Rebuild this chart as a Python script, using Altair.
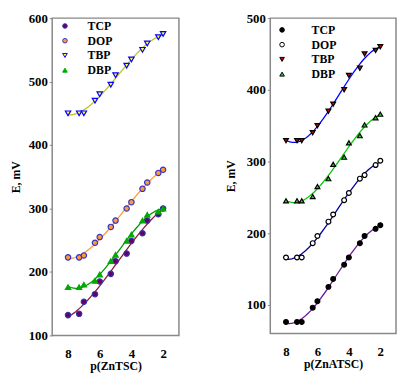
import altair as alt
import pandas as pd

series = ["TCP", "DOP", "TBP", "DBP"]
px = [8, 7.3, 7, 6.3, 6, 5.3, 5, 4.3, 4, 3.3, 3, 2.3, 2]

# Left panel: p(ZnTSC)
L_TCP = [132, 134, 153, 165, 185, 197, 217, 229, 249, 261, 281, 291, 300]
L_DOP = [223, 223, 226, 246, 255, 271, 281, 300, 310, 331, 341, 356, 361]
L_TBP = [450, 450, 450, 470, 480, 495, 510, 525, 535, 550, 560, 570, 575]
L_DBP = [176, 176, 180, 186, 196, 217, 227, 249, 259, 281, 290, 295, 300]

# Right panel: p(ZnATSC)
R_TCP = [76, 76, 76, 96, 105, 125, 136, 156, 166, 186, 196, 206, 211]
R_DOP = [166, 166, 166, 186, 196, 216, 226, 246, 256, 276, 281, 295, 301]
R_TBP = [329, 329, 329, 340, 350, 370, 380, 400, 420, 430, 450, 455, 460]
R_DBP = [245, 245, 245, 251, 265, 276, 296, 306, 326, 336, 351, 361, 366]

def frame(vals):
    rows = []
    for s, ys in zip(series, vals):
        for x, y in zip(px, ys):
            rows.append({"x": x, "E": y, "series": s})
    return pd.DataFrame(rows)

FONT = "Times New Roman, Times, Liberation Serif, DejaVu Serif, serif"

def panel(df, xtitle, ydom, yvals, line_cols, fills, strokes, shapes, size, w, h,
          ytp, lx, ly, loff):
    base = alt.Chart(df)
    xenc = alt.X("x:Q", scale=alt.Scale(domain=[9, 1], nice=False),
                 axis=alt.Axis(values=[8, 6, 4, 2], title=xtitle, ticks=False,
                               labelPadding=12, titlePadding=1, domain=False, grid=False))
    yenc = alt.Y("E:Q", scale=alt.Scale(domain=ydom, nice=False, zero=False),
                 axis=alt.Axis(values=yvals, title="E, mV", tickSize=3, tickColor="#888888",
                               labelPadding=2, titlePadding=ytp, domain=False, grid=False))
    layers = []
    for s, c in zip(series, line_cols):
        layers.append(
            base.transform_filter(alt.datum.series == s)
            .transform_regression("x", "E", method="poly", order=3)
            .mark_line(strokeWidth=1.3, stroke=c, color=c)
            .encode(x=xenc, y=yenc)
        )
    leg = alt.Legend(title=None, orient="none", legendX=lx, legendY=ly, labelOffset=loff,
                     rowPadding=3, symbolSize=22, symbolStrokeWidth=1)
    pts = base.mark_point(filled=True, size=size, strokeWidth=1.2, opacity=1).encode(
        x=xenc, y=yenc,
        fill=alt.Fill("series:N", scale=alt.Scale(domain=series, range=fills), legend=leg),
        stroke=alt.Stroke("series:N", scale=alt.Scale(domain=series, range=strokes), legend=leg),
        shape=alt.Shape("series:N", scale=alt.Scale(domain=series, range=shapes), legend=leg),
    )
    layers.append(pts)
    return alt.layer(*layers).properties(width=w, height=h)

left = panel(
    frame([L_TCP, L_DOP, L_TBP, L_DBP]), "p(ZnTSC)", [100, 600], [100, 200, 300, 400, 500, 600],
    ["#8b1a3a", "#ff9933", "#c0c020", "#009900"],
    ["#660066", "#ff9933", "#ffff33", "#00aa00"],
    ["#3333aa", "#3333cc", "#0000ff", "#00aa00"],
    ["circle", "circle", "triangle-down", "triangle-up"],
    30, 129, 323, 6, 7, 2, 17,
)
right = panel(
    frame([R_TCP, R_DOP, R_TBP, R_DBP]), "p(ZnATSC)", [60, 500], [100, 200, 300, 400, 500],
    ["#6a1b9a", "#000099", "#0000ff", "#00cc00"],
    ["#000000", "#ffffff", "#cc0000", "#33cc33"],
    ["#000000", "#000000", "#000000", "#000000"],
    ["circle", "circle", "triangle-down", "triangle-up"],
    24, 128, 321, 9, 6, 6, 24,
)

chart = alt.hconcat(left, right, spacing=44).resolve_scale(
    fill="independent", stroke="independent", shape="independent",
    x="independent", y="independent",
).configure_view(stroke="#888888", strokeWidth=1.5).configure_axis(
    labelFont=FONT, labelFontWeight="bold", labelFontSize=13,
    titleFont=FONT, titleFontWeight="bold", titleFontSize=12,
    labelColor="black", titleColor="black",
).configure_legend(
    labelFont=FONT, labelFontWeight="bold", labelFontSize=12, labelColor="black",
).properties(
    padding={"left": 0, "top": 0, "right": 0, "bottom": 0}, background="white"
)

chart.save("out.html", embed_options={"renderer": "svg", "actions": False})
